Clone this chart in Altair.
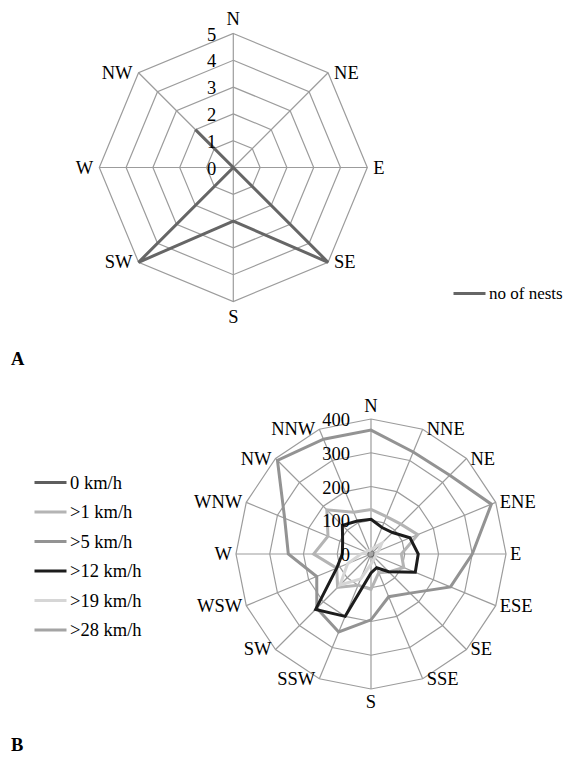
import math
import altair as alt
import pandas as pd

# ---------------- data ----------------
dirs8 = ["N", "NE", "E", "SE", "S", "SW", "W", "NW"]
nests = [0, 0, 0, 5, 2, 5, 0, 2]
ticks_a = [0, 1, 2, 3, 4, 5]

dirs16 = ["N", "NNE", "NE", "ENE", "E", "ESE", "SE", "SSE",
          "S", "SSW", "SW", "WSW", "W", "WNW", "NW", "NNW"]
speeds = ["0 km/h", ">1 km/h", ">5 km/h", ">12 km/h", ">19 km/h", ">28 km/h"]
v_0 = [6, 5, 6, 5, 6, 5, 6, 5, 6, 5, 6, 5, 6, 5, 6, 5]
v_1 = [132, 120, 125, 150, 90, 105, 75, 60, 105, 100, 140, 110, 170, 138, 185, 134]
v_5 = [367, 327, 330, 386, 300, 255, 164, 137, 195, 250, 227, 174, 245, 277, 392, 368]
v_12 = [103, 85, 90, 125, 140, 142, 74, 44, 56, 200, 232, 110, 85, 91, 120, 106]
v_19 = [15, 20, 45, 25, 15, 15, 15, 20, 30, 80, 130, 75, 30, 15, 15, 10]
v_28 = [3, 3, 4, 3, 3, 3, 3, 3, 3, 4, 5, 4, 3, 3, 3, 3]
series_b = [v_0, v_1, v_5, v_12, v_19, v_28]
colors_b = ["#5e5e5e", "#b4b4b4", "#939393", "#1c1c1c", "#d6d6d6", "#a4a4a4"]
ticks_b = [0, 100, 200, 300, 400]

FONT = "Liberation Serif, Times New Roman, serif"
FS = 18.5
GRID = "#9c9c9c"


def radar(dirs, series_names, series_vals, colors, ticks, W, H, cx, cy, rpx,
          tick_dx, lab_gap, legend_xy, legend_fs, letter, letter_xy, sw=3):
    n = len(dirs)
    rmax = ticks[-1]
    k = rpx / rmax
    xdom = [-cx / k, (W - cx) / k]
    ydom = [-(H - cy) / k, cy / k]

    def X(f):
        return alt.X(f, type="quantitative", scale=alt.Scale(domain=xdom, nice=False, zero=False), axis=None)

    def Y(f):
        return alt.Y(f, type="quantitative", scale=alt.Scale(domain=ydom, nice=False, zero=False), axis=None)

    ang = f"datum.i * 2 * PI / {n}"
    calc = dict(x=f"datum.r * sin({ang})", y=f"datum.r * cos({ang})")

    # grid rings
    ring = pd.DataFrame([{"lev": t, "i": i, "r": t} for t in ticks[1:] for i in range(n)])
    rings = alt.Chart(ring).transform_calculate(**calc).mark_line(
        interpolate="linear-closed", color=GRID, strokeWidth=1.2
    ).encode(x=X("x"), y=Y("y"), detail="lev:N", order="i:Q")

    # spokes
    sp = pd.DataFrame({"i": list(range(n)), "r": [rmax] * n})
    spokes = alt.Chart(sp).transform_calculate(zero="0", **calc).mark_rule(
        color=GRID, strokeWidth=1.2
    ).encode(x=X("zero"), y=Y("zero"), x2="x:Q", y2="y:Q")

    # series
    rows = []
    for s, vals in zip(series_names, series_vals):
        for i, v in enumerate(vals):
            rows.append({"series": s, "i": i, "dir": dirs[i], "r": v})
    sdf = pd.DataFrame(rows)
    lines = alt.Chart(sdf).transform_calculate(**calc).mark_line(
        interpolate="linear-closed", strokeWidth=sw
    ).encode(
        x=X("x"), y=Y("y"), order="i:Q",
        color=alt.Color("series:N", sort=series_names,
                        scale=alt.Scale(domain=series_names, range=colors),
                        legend=alt.Legend(
                            title=None, orient="none",
                            legendX=legend_xy[0], legendY=legend_xy[1],
                            symbolType="stroke", symbolSize=1024, symbolStrokeWidth=3,
                            labelFont=FONT, labelFontSize=legend_fs, labelColor="black",
                            labelOffset=2, rowPadding=legend_xy[2], padding=0,
                        )),
    )

    # category labels
    lab = pd.DataFrame({"i": list(range(n)), "dir": dirs, "r": [rmax] * n})
    base = alt.Chart(lab).transform_calculate(s=f"sin({ang})", **calc)
    tx = dict(x=X("x"), y=Y("y"), text="dir:N")
    right = base.transform_filter("datum.s > 0.01").mark_text(
        align="left", baseline="middle", dx=lab_gap, font=FONT, fontSize=FS, color="black").encode(**tx)
    left = base.transform_filter("datum.s < -0.01").mark_text(
        align="right", baseline="middle", dx=-lab_gap, font=FONT, fontSize=FS, color="black").encode(**tx)
    top = base.transform_filter("datum.i == 0").mark_text(
        align="center", baseline="bottom", dy=-lab_gap + 1, font=FONT, fontSize=FS, color="black").encode(**tx)
    bot = base.transform_filter(f"datum.i == {n // 2}").mark_text(
        align="center", baseline="top", dy=lab_gap, font=FONT, fontSize=FS, color="black").encode(**tx)

    # radial tick labels
    tdf = pd.DataFrame({"r": ticks, "t": [str(t) for t in ticks]})
    tl = alt.Chart(tdf).transform_calculate(zero="0").mark_text(
        align="right", baseline="middle", dx=tick_dx, dy=1, font=FONT, fontSize=FS, color="black"
    ).encode(x=X("zero"), y=Y("r"), text="t:N")

    letter_mark = alt.Chart(pd.DataFrame({"t": [letter]})).mark_text(
        align="left", baseline="middle", font=FONT, fontSize=FS, fontWeight="bold", color="black"
    ).encode(x=alt.value(letter_xy[0]), y=alt.value(letter_xy[1]), text="t:N")

    return alt.layer(rings, spokes, lines, right, left, top, bot, tl, letter_mark).properties(
        width=W, height=H)


top = radar(dirs8, ["no of nests"], [nests], ["#666666"], ticks_a,
            W=555, H=380, cx=225.3, cy=159.5, rpx=134, tick_dx=-17, lab_gap=6,
            legend_xy=(444, 268, 4), legend_fs=17, letter="A", letter_xy=(3, 351))
bottom = radar(dirs16, speeds, series_b, colors_b, ticks_b,
               W=555, H=362, cx=363, cy=166, rpx=135, tick_dx=-21, lab_gap=4,
               legend_xy=(25, 77, 2.5), legend_fs=18.5, letter="B", letter_xy=(3, 357))

chart = alt.vconcat(top, bottom, spacing=0).resolve_scale(
    x="independent", y="independent", color="independent"
).resolve_legend(color="independent").properties(padding=0).configure_view(stroke=None)

chart.save("out.html", embed_options={"renderer": "svg", "actions": False})
